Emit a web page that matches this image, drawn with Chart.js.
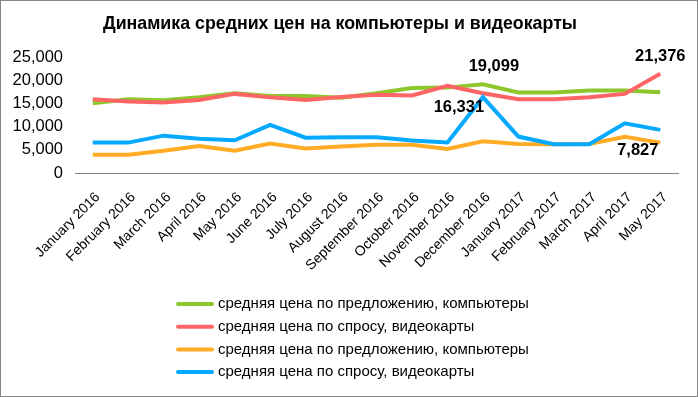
<!DOCTYPE html>
<html>
<head>
<meta charset="utf-8">
<script src="https://cdn.jsdelivr.net/npm/chart.js@4"></script>
<style>
  html, body { margin: 0; padding: 0; background: #fff; }
  #wrap { width: 698px; height: 397px; position: relative; }
</style>
</head>
<body>
<div id="wrap"><canvas id="c" width="698" height="397"></canvas></div>
<script>
const chartTitle = 'Динамика средних цен на компьютеры и видеокарты';
const categories = ['January 2016','February 2016','March 2016','April 2016','May 2016','June 2016','July 2016','August 2016','September 2016','October 2016','November 2016','December 2016','January 2017','February 2017','March 2017','April 2017','May 2017'];
const seriesNames = [
  'средняя цена по предложению, компьютеры',
  'средняя цена по спросу, видеокарты',
  'средняя цена по предложению, компьютеры',
  'средняя цена по спросу, видеокарты'
];
const greenValues  = [15050,15900,15700,16350,17200,16600,16600,16200,17200,18300,18400,19099,17350,17350,17800,17800,17400];
const redValues    = [15900,15400,15200,15750,17050,16300,15750,16400,16850,16700,18800,17200,15900,15900,16350,17050,21376];
const orangeValues = [3950,3950,4800,5800,4800,6350,5300,5700,6100,6100,5200,6850,6250,6200,6250,7827,6550];
const blueValues   = [6550,6550,8050,7400,7050,10350,7600,7700,7700,7000,6600,16331,7850,6200,6200,10700,9300];
const yTicks = [0,5000,10000,15000,20000,25000];
const seriesColors = ['#8DC72C','#FF6565','#FFAB24','#05AAFF'];
// labelled points: [series index, category index]
const labelledPoints = [[0,11],[3,11],[1,16],[2,15]];

const FONT = '"Liberation Sans", Arial, sans-serif';
const fmt = v => v.toLocaleString('en-US');
const seriesValues = [greenValues, redValues, orangeValues, blueValues];

const labelOffsets = { '0,11': [11,-18], '3,11': [-24,10], '1,16': [0,-17], '2,15': [13,14] };

const extras = {
  id: 'extras',
  afterDraw(chart) {
    const ctx = chart.ctx;
    ctx.save();
    // border
    ctx.strokeStyle = '#868686';
    ctx.lineWidth = 1;
    ctx.strokeRect(0.5, 0.5, chart.width - 1, chart.height - 1);
    // title
    ctx.fillStyle = '#000';
    ctx.font = 'bold 17.8px ' + FONT;
    ctx.textAlign = 'center';
    ctx.textBaseline = 'middle';
    ctx.fillText(chartTitle, 340, 24);
    // data labels
    ctx.font = 'bold 16.5px ' + FONT;
    labelledPoints.forEach(([s, i]) => {
      const meta = chart.getDatasetMeta(s);
      const pt = meta.data[i];
      const off = labelOffsets[s + ',' + i];
      ctx.fillText(fmt(seriesValues[s][i]), pt.x + off[0], pt.y + off[1]);
    });
    // legend
    ctx.font = '15px ' + FONT;
    ctx.textAlign = 'left';
    seriesNames.forEach((name, k) => {
      const y = 304 + k * 22.7;
      ctx.strokeStyle = seriesColors[k];
      ctx.lineWidth = 4;
      ctx.lineCap = 'round';
      ctx.beginPath();
      ctx.moveTo(178, y);
      ctx.lineTo(212, y);
      ctx.stroke();
      ctx.fillStyle = '#000';
      ctx.fillText(name, 218, y);
    });
    ctx.restore();
  }
};

const datasets = seriesValues.map((vals, k) => ({
  label: seriesNames[k],
  data: vals,
  borderColor: seriesColors[k],
  backgroundColor: seriesColors[k],
  borderWidth: 4,
  pointRadius: 0,
  pointHoverRadius: 0,
  tension: 0,
  fill: false,
  order: 4 - k
}));

new Chart(document.getElementById('c'), {
  type: 'line',
  data: { labels: categories, datasets },
  options: {
    responsive: false,
    animation: false,
    devicePixelRatio: 1,
    layout: { padding: { left: 13, right: 20, top: 57, bottom: 0 } },
    plugins: { legend: { display: false }, title: { display: false }, tooltip: { enabled: false } },
    scales: {
      x: {
        type: 'category',
        offset: true,
        grid: { display: false, drawTicks: false },
        border: { display: true, color: '#868686', width: 1 },
        afterFit: axis => { axis.height = 224; },
        ticks: {
          autoSkip: false, maxRotation: 45, minRotation: 45, padding: 16, labelOffset: 5,
          color: '#000', font: { family: FONT, size: 14 }
        }
      },
      y: {
        min: 0, max: 25000,
        afterBuildTicks: axis => { axis.ticks = yTicks.map(v => ({ value: v })); },
        afterFit: axis => { axis.width = 62; },
        grid: { display: false, drawTicks: false },
        border: { display: false },
        ticks: {
          padding: 12, color: '#000', font: { family: FONT, size: 16.5 },
          callback: v => fmt(v)
        }
      }
    }
  },
  plugins: [extras]
});
</script>
</body>
</html>
